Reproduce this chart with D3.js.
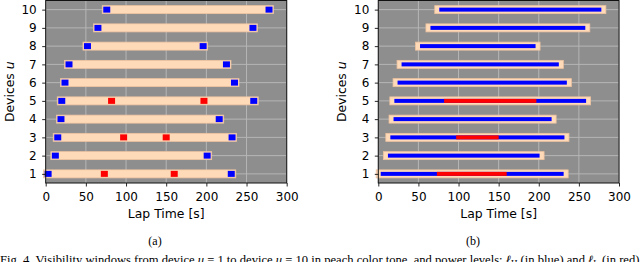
<!DOCTYPE html>
<html><head><meta charset="utf-8">
<script src="https://cdn.jsdelivr.net/npm/d3@7"></script>
<style>
body{margin:0;background:#fff}
svg{display:block}
text{fill:#000}
</style>
</head><body>
<svg id="c" width="640" height="262"></svg>
<script>
const devices = [1,2,3,4,5,6,7,8,9,10];
const winStart = [3,12,15,19,20,24,29,52,65,76];
const winEnd   = [231,201,232,216,259,235,225,196,258,278];
const lowDevices = [1,3,5];
const lowStart   = [73,97,82];
const lowEnd     = [160,150,197];
const xTicks = [0,50,100,150,200,250,300];
const yTicks = [1,2,3,4,5,6,7,8,9,10];
const xLabel = "Lap Time [s]";
const yLabel = "Devices ";
const yLabelVar = "u";
const subLabels = ["(a)","(b)"];

(function(){
const svg = d3.select("#c");
const SANS = "'DejaVu Sans', sans-serif", SERIF = "'Liberation Serif', 'DejaVu Serif', serif";
const BG="#8e8e8e", GRID="#b6b6b6", PEACH="#ffdab9", PEACH_EDGE="#eec3a0", BLUE="#0000ff", RED="#ff0000";

const panels = [
  {l:45.7, r:286.7, mode:"markers", capX:155, yLabX:9.5},
  {l:378.3, r:619, mode:"lines", capX:473, yLabX:341.5}
];
const pTop = 0.5, pBottom = 183;

panels.forEach((p,pi)=>{
  const x = d3.scaleLinear().domain([0,300]).range([p.l,p.r]);
  const y = d3.scaleLinear().domain([0.5,10.5]).range([pBottom,pTop]);
  const g = svg.append("g");
  g.append("rect").attr("x",p.l).attr("y",pTop).attr("width",p.r-p.l).attr("height",pBottom-pTop).attr("fill",BG);
  g.selectAll(".gx").data(xTicks).join("line")
    .attr("x1",d=>x(d)).attr("x2",d=>x(d)).attr("y1",pTop).attr("y2",pBottom)
    .attr("stroke",GRID).attr("stroke-width",1);
  g.selectAll(".gy").data(yTicks).join("line")
    .attr("y1",d=>y(d)).attr("y2",d=>y(d)).attr("x1",p.l).attr("x2",p.r)
    .attr("stroke",GRID).attr("stroke-width",1);
  const pad = 4.5, bh = 8;
  g.selectAll(".win").data(devices).join("rect")
    .attr("x",(d,i)=>x(winStart[i])-pad)
    .attr("y",d=>y(d)-bh/2)
    .attr("width",(d,i)=>x(winEnd[i])-x(winStart[i])+2*pad)
    .attr("height",bh)
    .attr("fill",PEACH).attr("stroke",PEACH_EDGE).attr("stroke-width",0.8);
  if(p.mode==="markers"){
    const sw=7, sh=6;
    const pts=[];
    devices.forEach((d,i)=>{pts.push({d,v:winStart[i],c:BLUE});pts.push({d,v:winEnd[i],c:BLUE});});
    lowDevices.forEach((d,i)=>{pts.push({d,v:lowStart[i],c:RED});pts.push({d,v:lowEnd[i],c:RED});});
    g.selectAll(".mk").data(pts).join("rect")
      .attr("x",d=>x(d.v)-sw/2).attr("y",d=>y(d.d)-sh/2)
      .attr("width",sw).attr("height",sh).attr("fill",d=>d.c);
  } else {
    const lh=4;
    g.selectAll(".bl").data(devices).join("rect")
      .attr("x",(d,i)=>x(winStart[i])).attr("y",d=>y(d)-lh/2)
      .attr("width",(d,i)=>x(winEnd[i])-x(winStart[i])).attr("height",lh)
      .attr("fill",BLUE);
    g.selectAll(".rl").data(lowDevices).join("rect")
      .attr("x",(d,i)=>x(lowStart[i])).attr("y",d=>y(d)-lh/2)
      .attr("width",(d,i)=>x(lowEnd[i])-x(lowStart[i])).attr("height",lh)
      .attr("fill",RED);
  }
  g.append("rect").attr("x",p.l).attr("y",pTop).attr("width",p.r-p.l).attr("height",pBottom-pTop)
    .attr("fill","none").attr("stroke","#111").attr("stroke-width",1);
  const ax = g.append("g").attr("transform",`translate(0,${pBottom})`)
    .call(d3.axisBottom(x).tickValues(xTicks).tickSize(3.5).tickPadding(5.8));
  const ay = g.append("g").attr("transform",`translate(${p.l},0)`)
    .call(d3.axisLeft(y).tickValues(yTicks).tickSize(3.5).tickPadding(5.5));
  [ax,ay].forEach(a=>{
    a.select(".domain").remove();
    a.selectAll("line").attr("stroke","#111").attr("stroke-width",0.9);
    a.selectAll("text").attr("font-size",12).style("font-family",SANS).attr("fill","#000");
  });
  g.append("text").attr("x",(p.l+p.r)/2).attr("y",217.5).attr("text-anchor","middle")
    .style("font-family",SANS).attr("font-size",12.4).text(xLabel);
  const yl = g.append("text").attr("transform",`translate(${p.yLabX},${(pTop+pBottom)/2}) rotate(-90)`)
    .attr("text-anchor","middle").attr("dy","0.35em").style("font-family",SANS).attr("font-size",12.4);
  yl.append("tspan").text(yLabel);
  yl.append("tspan").attr("font-style","italic").text(yLabelVar);
  svg.append("text").attr("x",p.capX).attr("y",245).attr("text-anchor","middle")
    .style("font-family",SERIF).attr("font-size",12).text(subLabels[pi]);
});

const cap = svg.append("text").attr("x",0).attr("y",263.5).style("font-family",SERIF).attr("font-size",12.6);
cap.append("tspan").text("Fig. 4.  Visibility windows from device ");
cap.append("tspan").attr("font-style","italic").text("u");
cap.append("tspan").text(" = 1 to device ");
cap.append("tspan").attr("font-style","italic").text("u");
cap.append("tspan").text(" = 10 in peach color tone, and power levels: ");
cap.append("tspan").attr("font-style","italic").text("ℓ");
cap.append("tspan").attr("font-size",9).attr("dy",2).text("H");
cap.append("tspan").attr("dy",-2).text(" (in blue) and ");
cap.append("tspan").attr("font-style","italic").text("ℓ");
cap.append("tspan").attr("font-size",9).attr("dy",2).text("L");
cap.append("tspan").attr("dy",-2).text(" (in red)");
})();
</script>
</body></html>
